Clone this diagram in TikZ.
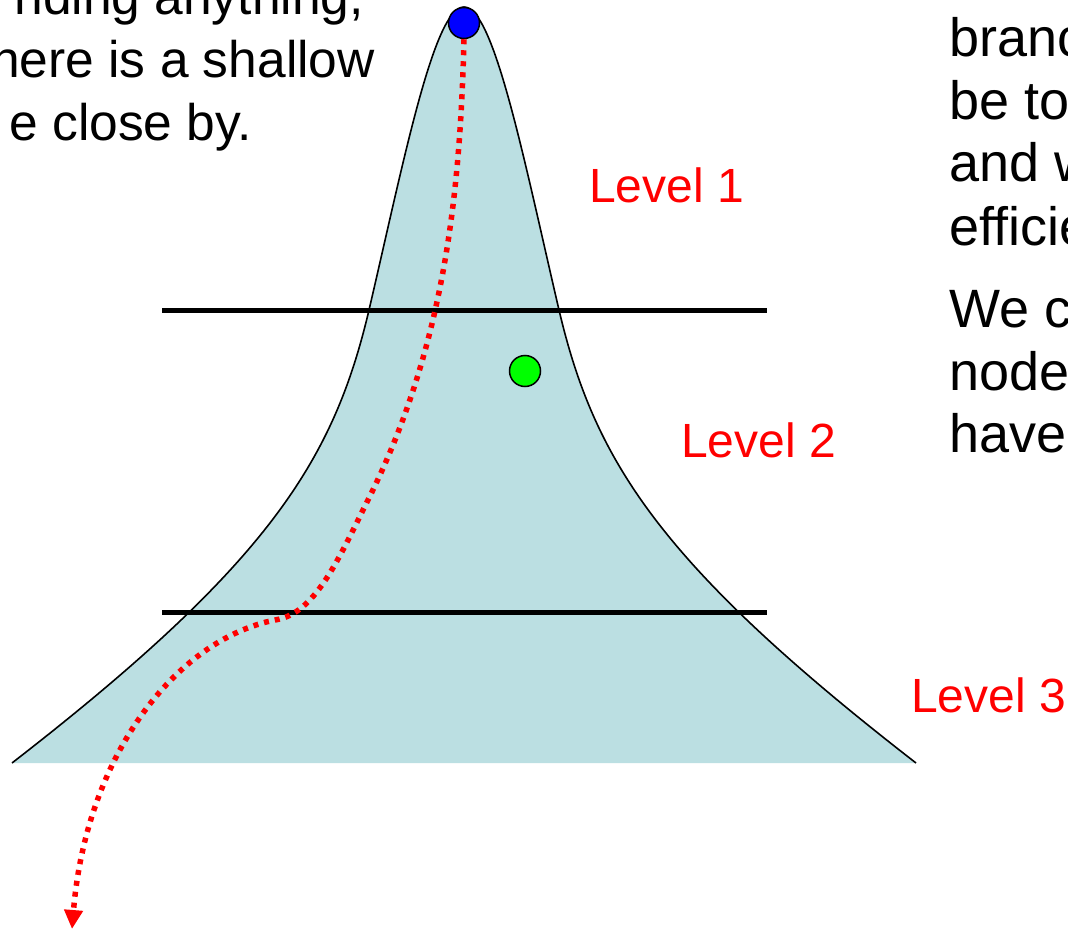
\documentclass[tikz,border=0pt]{standalone}
\usepackage{fontspec}
\setmainfont{Liberation Sans}
\usetikzlibrary{arrows.meta}
\definecolor{hillblue}{RGB}{187,223,226}

\begin{document}
\begin{tikzpicture}[x=1pt,y=-1pt,
    hill/.style={draw=black,line width=1.6pt,fill=hillblue},
    divider/.style={line width=5pt},
    bead/.style={circle,draw=black,line width=1.5pt,minimum size=31pt,inner sep=0pt},
    trail/.style={red,line width=5.5pt,dash pattern=on 5pt off 6pt,-{Triangle[length=19pt,width=18pt]}},
    prose/.style={inner sep=0pt,font=\fontsize{54}{62}\selectfont},
    lvltext/.style={inner sep=0pt,text=red,font=\fontsize{48}{58}\selectfont}]

\useasboundingbox (0,0) rectangle (1068,931);
\clip (0,0) rectangle (1068,931);

% the hill, sides only outlined
\draw[hill] (12,763) .. controls (270,563) and (333.6,460) .. (369,310)
  .. controls (404,160) and (434,7) .. (464,7)
  .. controls (494,7) and (524,160) .. (559,310)
  .. controls (594.4,460) and (658,563) .. (916,763);

\draw[divider] (162,310) -- (767,310);
\draw[divider] (162,612) -- (767,612);

\node[bead,fill=blue] (top) at (464,23) {};
\node[bead,fill=green] (near) at (525,371) {};
\coordinate (drop) at (72,929);

\draw[trail] (top.south) .. controls (460,200) and (443,350) .. (368,500)
  .. controls (338,560) and (315,614) .. (275,620)
  .. controls (175,640) and (86,757) .. (drop);

\node[lvltext,anchor=base west] (lvl1) at (589,202) {Level 1};
\node[lvltext,anchor=base west] (lvl2) at (681,457) {Level 2};
\node[lvltext,anchor=base west] (lvl3) at (911,712) {Level 3};

\node[prose,font=\fontsize{51.5}{62}\selectfont,anchor=base east] (left1) at (364,15) {nding anything,};
\node[prose,font=\fontsize{51.5}{62}\selectfont,anchor=base east] (left2) at (375,78) {here is a shallow};
\node[prose,font=\fontsize{51.5}{62}\selectfont,anchor=base east] (left3) at (252,140) {e close by.};

\node[prose,anchor=base west] (right1) at (949,57) {branc};
\node[prose,anchor=base west] (right2) at (949,120) {be to};
\node[prose,anchor=base west] (right3) at (949,182) {and w};
\node[prose,anchor=base west] (right4) at (949,245) {efficie};
\node[prose,anchor=base west] (right5) at (949,327) {We c};
\node[prose,anchor=base west] (right6) at (949,390) {node};
\node[prose,anchor=base west] (right7) at (949,452) {have};
\end{tikzpicture}
\end{document}
